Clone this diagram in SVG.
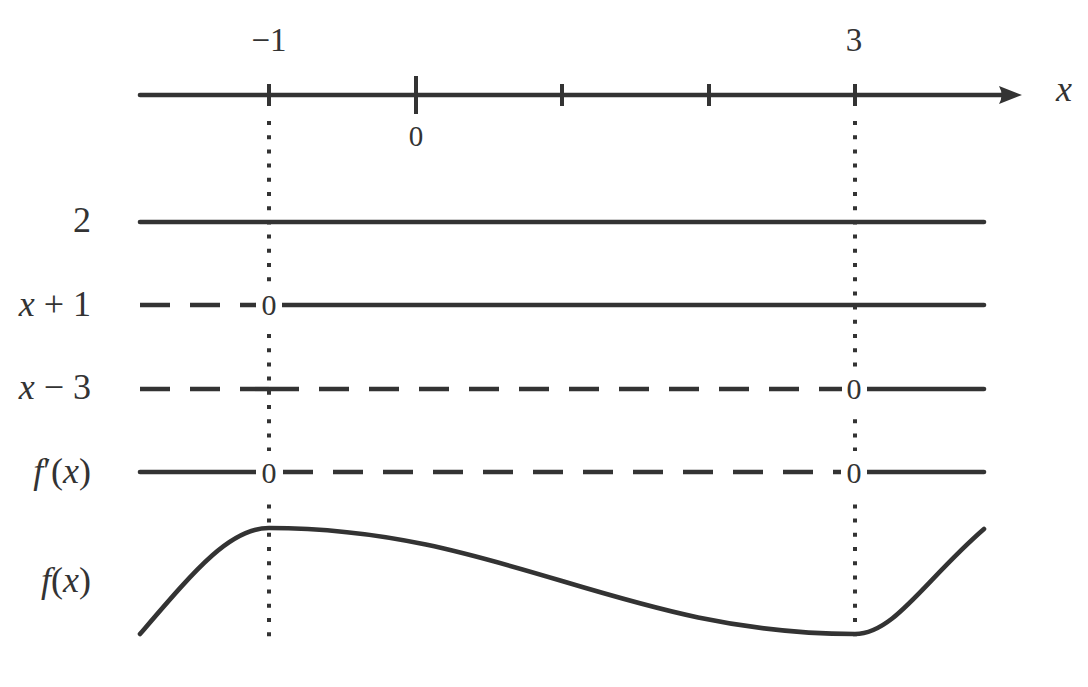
<svg xmlns="http://www.w3.org/2000/svg" width="1088" height="687" viewBox="0 0 1088 687">
<style>
.ln{stroke:#333;stroke-width:4.6;fill:none;stroke-linecap:round}
.ds{stroke:#333;stroke-width:4.6;fill:none;stroke-dasharray:30 20}
.dot{stroke:#333;stroke-width:4;fill:none;stroke-dasharray:4 10.2}
.tk{stroke:#333;stroke-width:4}
.t{font-family:'Liberation Serif','DejaVu Serif',serif;fill:#333}
.i{font-style:italic}
.box{fill:#fff}
</style>
<rect width="1088" height="687" fill="#fff"/>
<g id="axis">
<line class="ln" x1="140" y1="95" x2="1005" y2="95" stroke-width="5"/>
<path d="M1022,95 L999,86 Q1004,95 999,104 Z" fill="#333"/>
<line class="tk" x1="269" y1="84" x2="269" y2="106"/>
<line class="tk" x1="416" y1="76" x2="416" y2="114"/>
<line class="tk" x1="562" y1="84" x2="562" y2="106"/>
<line class="tk" x1="709" y1="84" x2="709" y2="106"/>
<line class="tk" x1="855" y1="84" x2="855" y2="106"/>
<text class="t" x="269" y="51" font-size="33" text-anchor="middle">−1</text>
<text class="t" x="854" y="51" font-size="33" text-anchor="middle">3</text>
<text class="t" x="416" y="146" font-size="29" text-anchor="middle">0</text>
<text class="t i" x="1064" y="101" font-size="36" text-anchor="middle">x</text>
</g>
<g id="connectors">
<line class="ln" x1="140" y1="222" x2="984" y2="222"/>
<line class="ds" x1="140" y1="305" x2="269" y2="305"/>
<line class="ln" x1="269" y1="305" x2="984" y2="305"/>
<line class="ds" x1="140" y1="389" x2="269" y2="389"/>
<line class="ds" x1="269" y1="389" x2="855" y2="389"/>
<line class="ln" x1="855" y1="389" x2="984" y2="389"/>
<line class="ln" x1="140" y1="472" x2="269" y2="472"/>
<line class="ds" x1="283" y1="472" x2="841" y2="472"/>
<line class="ln" x1="855" y1="472" x2="984" y2="472"/>
<path class="ln" stroke-width="5" d="M140,634 C195,570 230,528 269,528 C501,528 623,634 855,634 C894,634 925,580 984,529"/>
<line class="dot" x1="269" y1="121" x2="269" y2="640"/>
<line class="dot" x1="855" y1="121" x2="855" y2="640"/>
</g>
<g id="row-2"><text class="t" x="91" y="232" font-size="36" text-anchor="end">2</text></g>
<g id="row-xp1"><text class="t" x="91" y="316" font-size="36" text-anchor="end"><tspan class="i">x</tspan> + 1</text>
<rect class="box" x="256" y="284" width="26" height="48"/>
<text class="t" x="269" y="315" font-size="30" text-anchor="middle">0</text></g>
<g id="row-xm3"><text class="t" x="91" y="399" font-size="36" text-anchor="end"><tspan class="i">x</tspan> − 3</text>
<rect class="box" x="842" y="368" width="25" height="42"/>
<text class="t" x="854" y="399" font-size="30" text-anchor="middle">0</text></g>
<g id="row-fp"><text class="t" x="91" y="483" font-size="36" text-anchor="end"><tspan class="i">f</tspan>′(<tspan class="i">x</tspan>)</text>
<rect class="box" x="256" y="451" width="26" height="50"/>
<text class="t" x="269" y="483" font-size="30" text-anchor="middle">0</text>
<rect class="box" x="842" y="451" width="25" height="50"/>
<text class="t" x="854" y="483" font-size="30" text-anchor="middle">0</text></g>
<g id="row-f"><text class="t" x="91" y="592" font-size="36" text-anchor="end"><tspan class="i">f</tspan>(<tspan class="i">x</tspan>)</text></g>
</svg>
